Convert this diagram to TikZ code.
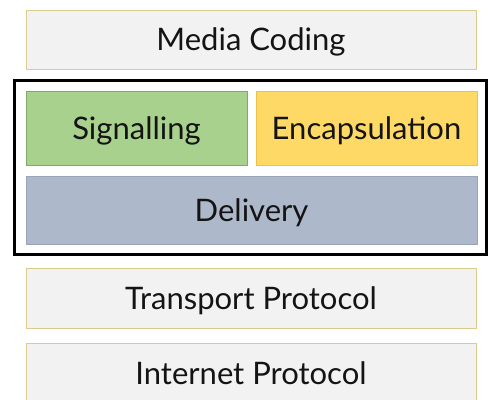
\documentclass[tikz,border=0pt]{standalone}
\usepackage{fontspec}
\setmainfont{Lato}
\usepackage{tikz}

\definecolor{layergray}{HTML}{F2F2F2}
\definecolor{layeredge}{HTML}{DCCB8E}
\definecolor{siggreen}{HTML}{A9D18E}
\definecolor{sigedge}{HTML}{82A86C}
\definecolor{encyellow}{HTML}{FFD966}
\definecolor{encedge}{HTML}{EDC24A}
\definecolor{delblue}{HTML}{ADB9CA}
\definecolor{deledge}{HTML}{9AA6B8}
\definecolor{inkdark}{HTML}{141414}

\tikzset{
  layer/.style = {draw = layeredge, fill = layergray, line width = 1pt,
    minimum width = 450pt, minimum height = 59pt, inner sep = 0pt,
    text height = 22pt, text depth = 0pt,
    text = inkdark, font = \fontsize{31}{36}\selectfont},
}

\begin{document}
\begin{tikzpicture}[x = 1pt, y = -1pt]

\useasboundingbox (0,0) rectangle (489,399);
\clip (0,0) rectangle (489,399);

\node[layer] (media) at (251,39.5) {Media Coding};

\node[draw, line width = 3pt, minimum width = 472pt, minimum height = 174pt,
  inner sep = 0pt] (frame) at (250,167) {};

\node[layer, draw = sigedge, fill = siggreen, minimum width = 221pt,
  minimum height = 74pt] (signalling) at (136.5,128) {Signalling};
\node[layer, draw = encedge, fill = encyellow, minimum width = 221pt,
  minimum height = 74pt] (encapsulation) at (366.5,128) {Encapsulation};

\node[layer, draw = deledge, fill = delblue, minimum width = 451pt,
  minimum height = 68pt] (delivery) at (251.5,210) {Delivery};

\node[layer, minimum height = 60pt] (transport) at (251,298) {Transport Protocol};
\node[layer, minimum height = 60pt] (internet) at (251,373) {Internet Protocol};

\end{tikzpicture}
\end{document}
